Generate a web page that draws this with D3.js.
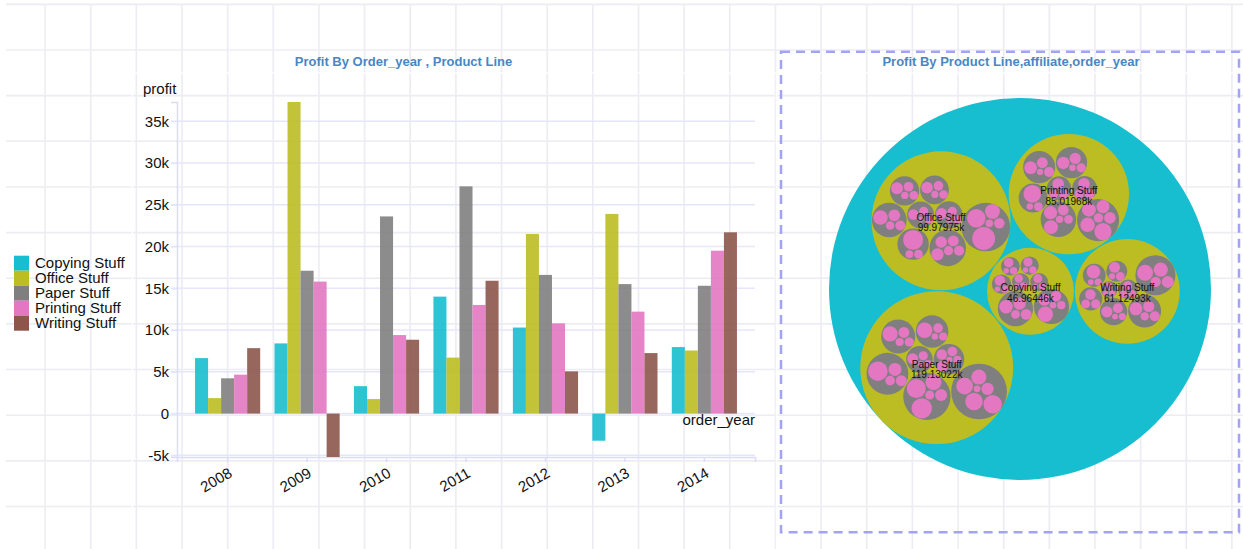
<!DOCTYPE html>
<html>
<head>
<meta charset="utf-8">
<script src="https://cdn.jsdelivr.net/npm/d3@7"></script>
<style>
  html, body { margin: 0; padding: 0; background: #fff; }
  svg { display: block; font-family: "Liberation Sans", Arial, sans-serif; }
</style>
</head>
<body>
<svg id="chart" width="1243" height="549"></svg>
<script>
// ---------------- DATA ----------------
const years = ["2008", "2009", "2010", "2011", "2012", "2013", "2014"];
const productLines = ["Copying Stuff", "Office Stuff", "Paper Stuff", "Printing Stuff", "Writing Stuff"];
const copyingProfit  = [6640, 8400, 3280, 14000, 10300, -3250, 7960];
const officeProfit   = [1850, 37300, 1740, 6700, 21500, 23900, 7550];
const paperProfit    = [4220, 17100, 23600, 27200, 16600, 15500, 15300];
const printingProfit = [4660, 15800, 9400, 13000, 10800, 12200, 19500];
const writingProfit  = [7830, -5200, 8840, 15900, 5050, 7240, 21700];
const yTicks = [-5000, 0, 5000, 10000, 15000, 20000, 25000, 30000, 35000];
const yTickLabels = ["-5k", "0", "5k", "10k", "15k", "20k", "25k", "30k", "35k"];
const colors = ["#17becf", "#bcbd22", "#7f7f7f", "#e377c2", "#8c564b"];

// pack chart: product line totals (k) and affiliate x order_year leaves (k)
const packTotals = [46.96446, 99.97975, 119.13022, 85.01968, 61.12493];
const copyingLeaves = [
  [1.7, 1.3, 0.6], [1.9, 1.2, 0.7], [2.0, 1.3, 0.7], [2.2, 1.3, 0.7], [2.6, 1.3, 0.7],
  [4.4, 3.6, 2.8, 1.8], [5.6, 3.4, 2.6, 1.6, 1.0]
];
const officeLeaves = [
  [2.6, 2.0, 1.6, 0.8], [2.8, 2.0, 1.6, 1.0], [3.2, 2.2, 1.7, 1.2], [3.4, 2.2, 1.8, 1.3],
  [5.0, 3.2, 2.4, 1.7], [9.4, 1.8, 1.4], [3.6, 3.2, 2.8, 2.4, 2.0], [12.4, 8.0, 5.2, 2.6, 1.4]
];
const paperLeaves = [
  [2.8, 2.0, 1.3, 0.8], [3.0, 2.6, 2.2, 1.5, 0.9], [5.8, 2.2, 1.6, 1.0], [5.4, 2.8, 2.0, 1.6],
  [9.0, 4.0, 2.8, 2.2], [9.8, 8.6, 6.0, 3.4, 1.9], [8.0, 7.2, 6.6, 5.4, 3.6, 1.1]
];
const printingLeaves = [
  [3.2, 2.2, 1.8], [3.2, 2.3, 2.0], [3.6, 3.0, 2.0, 1.0], [3.8, 2.8, 2.4, 0.9],
  [7.4, 1.8, 1.0], [4.6, 4.2, 2.8, 1.8, 1.3], [7.0, 5.0, 4.6, 4.0, 3.2, 2.1]
];
const writingLeaves = [
  [6.0, 4.8, 3.4, 2.5], [2.8, 1.8, 0.9], [2.0, 1.4, 1.2], [4.0, 3.0, 2.4, 1.6],
  [4.4, 1.2, 0.8], [2.6, 2.0, 1.8], [3.0, 2.4, 1.2, 0.8], [1.4, 1.0, 0.7]
];

// ---------------- DRAW ----------------
const svg = d3.select("#chart");
const W = 1243, H = 549;

// background page grid
const gridStep = 45.65;
const bg = svg.append("g");
d3.range(-0.6 + gridStep, W, gridStep).forEach(x => {
  bg.append("line").attr("x1", x).attr("x2", x).attr("y1", 4).attr("y2", H)
    .attr("stroke", "#ececf3").attr("stroke-width", 1.6);
});
d3.range(4.35, H, gridStep).forEach(y => {
  bg.append("line").attr("x1", 6).attr("x2", W).attr("y1", y).attr("y2", y)
    .attr("stroke", "#ececf3").attr("stroke-width", 1.6);
});
bg.append("line").attr("x1", 132).attr("x2", 1240).attr("y1", 73).attr("y2", 73).attr("stroke", "#fff").attr("stroke-width", 1.5);
bg.append("line").attr("x1", 132).attr("x2", 132).attr("y1", 73).attr("y2", H).attr("stroke", "#fff").attr("stroke-width", 1.5);
bg.append("line").attr("x1", 776.5).attr("x2", 776.5).attr("y1", 73).attr("y2", H).attr("stroke", "#fff").attr("stroke-width", 1.5);

// ---------- bar chart ----------
const series = [copyingProfit, officeProfit, paperProfit, printingProfit, writingProfit];
const table = years.map((yr, i) => ({ year: yr, values: productLines.map((p, j) => ({ key: p, value: series[j][i] })) }));
const allVals = series.flat();

const x0 = d3.scaleBand().domain(years).range([177, 755]).paddingInner(0.18).paddingOuter(0.227);
const x1 = d3.scaleBand().domain(productLines).range([0, x0.bandwidth()]);
const y = d3.scaleLinear().domain([d3.min(allVals), d3.max(allVals)]).range([457, 102]);
const color = d3.scaleOrdinal().domain(productLines).range(colors);

svg.append("text").attr("x", 403.5).attr("y", 66).attr("text-anchor", "middle")
  .attr("font-size", 13).attr("font-weight", "bold").attr("fill", "#4a86c4")
  .text("Profit By Order_year , Product Line");
svg.append("text").attr("x", 1011).attr("y", 66).attr("text-anchor", "middle")
  .attr("font-size", 13).attr("font-weight", "bold").attr("fill", "#4a86c4")
  .text("Profit By Product Line,affiliate,order_year");

const gy = svg.append("g");
gy.selectAll("line").data(yTicks).join("line")
  .attr("x1", 171).attr("x2", 755)
  .attr("y1", d => y(d)).attr("y2", d => y(d))
  .attr("stroke", "#e6e6fa").attr("stroke-width", 1.5);

const yAxis = d3.axisLeft(y).tickValues(yTicks).tickFormat((d, i) => yTickLabels[i]).tickSize(6).tickSizeOuter(6).tickPadding(2);
const yg = svg.append("g").attr("transform", "translate(177,0)").call(yAxis);
yg.select(".domain").attr("stroke", "#dcdcf8").attr("stroke-width", 1.5);
yg.selectAll(".tick line").attr("stroke", "#e6e6fa").attr("stroke-width", 1.5);
yg.selectAll(".tick text").attr("font-size", 15).attr("fill", "#111")
  .attr("font-family", "'Liberation Sans', Arial, sans-serif");

const xAxis = d3.axisBottom(x0).tickSize(5).tickSizeOuter(5);
const xg = svg.append("g").attr("transform", "translate(0,457)").call(xAxis);
xg.select(".domain").attr("stroke", "#dcdcf8").attr("stroke-width", 1.5);
xg.selectAll(".tick line").attr("stroke", "#dcdcf8").attr("stroke-width", 1.5);
xg.selectAll(".tick text").remove();
xg.selectAll(".tick").append("text")
  .attr("text-anchor", "end")
  .attr("transform", "translate(5.5,19) rotate(-30)")
  .attr("font-size", 15).attr("fill", "#111")
  .attr("font-family", "'Liberation Sans', Arial, sans-serif")
  .text(d => d);

const groups = svg.append("g").selectAll("g").data(table).join("g")
  .attr("transform", d => `translate(${x0(d.year)},0)`);
groups.selectAll("rect").data(d => d.values).join("rect")
  .attr("x", d => x1(d.key))
  .attr("width", x1.bandwidth())
  .attr("y", d => y(Math.max(0, d.value)))
  .attr("height", d => Math.abs(y(d.value) - y(0)))
  .attr("fill", d => color(d.key))
  .attr("fill-opacity", 0.9);

svg.append("text").attr("x", 143).attr("y", 93.5).attr("font-size", 15).attr("fill", "#111").text("profit");
svg.append("text").attr("x", 755).attr("y", 425).attr("text-anchor", "end").attr("font-size", 15).attr("fill", "#111").text("order_year");

const lg = svg.append("g").selectAll("g").data(productLines).join("g")
  .attr("transform", (d, i) => `translate(14,${255.7 + i * 15})`);
lg.append("rect").attr("width", 15).attr("height", 15).attr("fill", d => color(d));
lg.append("text").attr("x", 21).attr("y", 12.6).attr("font-size", 15).attr("fill", "#111").text(d => d);

// ---------- pack chart (classic front-chain circle packing) ----------
svg.append("rect").attr("x", 781).attr("y", 51.7).attr("width", 458).attr("height", 480.6)
  .attr("fill", "none").attr("stroke", "#a3a3f5").attr("stroke-width", 2.5).attr("stroke-dasharray", "9,6");

function packInsert(a, b) { const c = a._next; a._next = b; b._prev = a; b._next = c; c._prev = b; }
function packSplice(a, b) { a._next = b; b._prev = a; }
function packIntersects(a, b) { const dx = b.x - a.x, dy = b.y - a.y, dr = a.r + b.r; return 0.999 * dr * dr > dx * dx + dy * dy; }
function packPlace(a, b, c) {
  let db = a.r + c.r; const dx = b.x - a.x, dy = b.y - a.y;
  if (db && (dx || dy)) {
    let da = b.r + c.r; const dc = dx * dx + dy * dy;
    da *= da; db *= db;
    const xx = 0.5 + (db - da) / (2 * dc);
    const t = db - dc;
    const yy = Math.sqrt(Math.max(0, 2 * da * (db + dc) - t * t - da * da)) / (2 * dc);
    c.x = a.x + xx * dx + yy * dy;
    c.y = a.y + xx * dy - yy * dx;
  } else { c.x = a.x + db; c.y = a.y; }
}
function packSiblings(node) {
  const nodes = node.children;
  if (!nodes || !nodes.length) return;
  const n = nodes.length;
  let xMin = Infinity, xMax = -Infinity, yMin = Infinity, yMax = -Infinity, a, b, c, i, j, k;
  const bound = d => {
    xMin = Math.min(d.x - d.r, xMin); xMax = Math.max(d.x + d.r, xMax);
    yMin = Math.min(d.y - d.r, yMin); yMax = Math.max(d.y + d.r, yMax);
  };
  nodes.forEach(d => { d._next = d._prev = d; });
  a = nodes[0]; a.x = -a.r; a.y = 0; bound(a);
  if (n > 1) {
    b = nodes[1]; b.x = b.r; b.y = 0; bound(b);
    if (n > 2) {
      c = nodes[2]; packPlace(a, b, c); bound(c);
      packInsert(a, c); a._prev = c; packInsert(c, b); b = a._next;
      for (i = 3; i < n; i++) {
        packPlace(a, b, c = nodes[i]);
        let isect = 0, s1 = 1, s2 = 1;
        for (j = b._next; j !== b; j = j._next, s1++) {
          if (packIntersects(j, c)) { isect = 1; break; }
        }
        if (isect === 1) {
          for (k = a._prev; k !== j._prev; k = k._prev, s2++) {
            if (packIntersects(k, c)) break;
          }
        }
        if (isect) {
          if (s1 < s2 || (s1 === s2 && b.r < a.r)) packSplice(a, b = j);
          else packSplice(a = k, b);
          i--;
        } else {
          packInsert(a, c); b = c; bound(c);
        }
      }
    }
  }
  const cx = (xMin + xMax) / 2, cy = (yMin + yMax) / 2;
  let cr = 0;
  nodes.forEach(d => { d.x -= cx; d.y -= cy; cr = Math.max(cr, d.r + Math.sqrt(d.x * d.x + d.y * d.y)); });
  node.r = cr;
  nodes.forEach(d => { delete d._next; delete d._prev; });
}
function packTransform(node, x, y, k) {
  node.x = x += k * node.x; node.y = y += k * node.y; node.r *= k;
  if (node.children) node.children.forEach(ch => packTransform(ch, x, y, k));
}
function packLayout(root, w, h, padding) {
  root.x = root.y = 0;
  root.eachAfter(d => { d.r = Math.sqrt(d.value); });
  root.eachAfter(packSiblings);
  if (padding) {
    const dr = padding * Math.max(2 * root.r / w, 2 * root.r / h) / 2;
    root.eachAfter(d => { d.r += dr; });
    root.eachAfter(packSiblings);
    root.eachAfter(d => { d.r -= dr; });
  }
  packTransform(root, w / 2, h / 2, 1 / Math.max(2 * root.r / w, 2 * root.r / h));
}

const leafSets = [copyingLeaves, officeLeaves, paperLeaves, printingLeaves, writingLeaves];
const packData = {
  name: "root",
  children: productLines.map((p, i) => ({
    name: p, total: packTotals[i],
    children: leafSets[i].map((aff, j) => ({
      name: "affiliate " + (j + 1),
      children: aff.map((v, k) => ({ name: years[k], value: v }))
    }))
  }))
};
const root = d3.hierarchy(packData).sum(d => d.value || 0).sort((a, b) => a.value - b.value);
const D = 382;
packLayout(root, D, D, 1);
const px = 829, py = 98;
const depthColors = ["#17becf", "#bcbd22", "#7f7f7f", "#e377c2"];
const pg = svg.append("g").attr("transform", `translate(${px},${py})`);
pg.selectAll("circle").data(root.descendants()).join("circle")
  .attr("cx", d => d.x).attr("cy", d => d.y).attr("r", d => d.r)
  .attr("fill", d => depthColors[d.depth]);

const lbl = pg.selectAll("g.lbl").data(root.children).join("g").attr("class", "lbl")
  .attr("transform", d => `translate(${d.x},${d.y})`);
lbl.append("text").attr("text-anchor", "middle").attr("y", 0).attr("font-size", 10).attr("fill", "#111")
  .text(d => d.data.name);
lbl.append("text").attr("text-anchor", "middle").attr("y", 10.5).attr("font-size", 10).attr("fill", "#111")
  .text(d => d.data.total + "k");
</script>
</body>
</html>
